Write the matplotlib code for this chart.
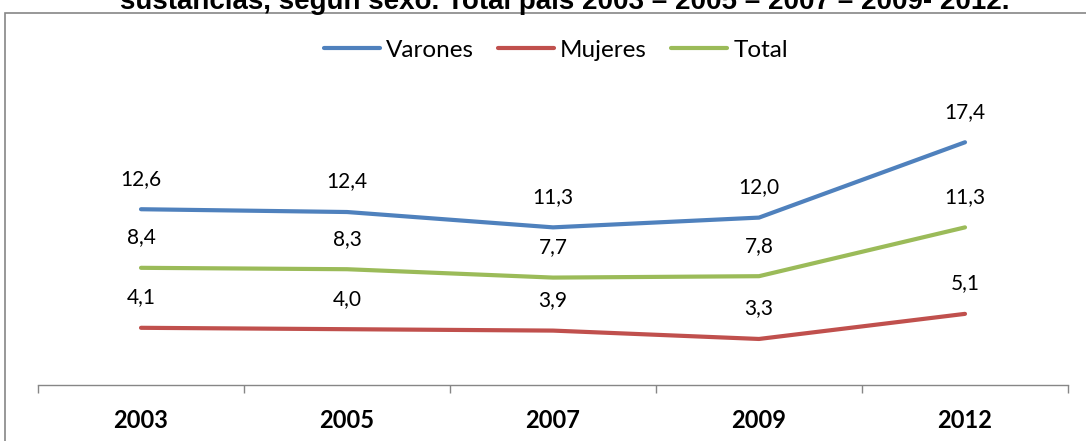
# consumo de sustancias, segun sexo - line chart in the Excel style

# require
import matplotlib
matplotlib.use( 'Agg' )
import matplotlib.pyplot as plt
from matplotlib.patches import Rectangle

# data
YEARS   = [ '2003', '2005', '2007', '2009', '2012' ]
VARONES = [ 12.6, 12.4, 11.3, 12.0, 17.4 ]
MUJERES = [ 4.1, 4.0, 3.9, 3.3, 5.1 ]
TOTAL   = [ 8.4, 8.3, 7.7, 7.8, 11.3 ]
TITLE   = 'sustancias, según sexo. Total país 2003 – 2005 – 2007 – 2009- 2012.'

# configure
W, H   = 1086, 441
BLUE   = '#4F81BD'
RED    = '#C0504D'
GREEN  = '#9BBB59'
GRAY   = '#868686'
FONT   = [ 'Lato', 'DejaVu Sans' ]

# initialize
figure = plt.figure( figsize=( W / 100, H / 100 ), dpi=100 )

# outer chart frame, cut by the picture edge on the right and bottom
figure.patches.append( Rectangle( ( 5 / W, -0.1 ), 1.2, 1.1 - 13 / H, transform=figure.transFigure,
	fill=False, edgecolor=GRAY, linewidth=1.2 ) )

# title, mostly clipped by the top edge
figure.text( 565 / W, 1 - 9 / H, TITLE, ha='center', va='baseline', fontsize=20,
	fontweight='bold', family='Liberation Sans' )

# plot area
axis = figure.add_axes( [ 38 / W, ( H - 385 ) / H, 1030 / W, 279 / H ] )
x    = list( range( len( YEARS ) ) )
for values, color, name in [ ( VARONES, BLUE, 'Varones' ), ( MUJERES, RED, 'Mujeres' ), ( TOTAL, GREEN, 'Total' ) ] :
	axis.plot( x, values, color=color, linewidth=3, solid_capstyle='round', label=name )
	for i, v in zip( x, values ) :
		label = ( '%.1f' % v ).replace( '.', ',' )
		axis.annotate( label, ( i, v ), xytext=( 0, 22 ), textcoords='offset points', ha='center',
			va='center', fontsize=15, family=FONT )

# axes
axis.set_xlim( -0.5, len( YEARS ) - 0.5 )
axis.set_ylim( 0, 20 )
axis.set_yticks( [] )
axis.set_xticks( x )
axis.set_xticklabels( YEARS, fontsize=17, fontweight='bold', family=FONT )
axis.set_xticks( [ i - 0.5 for i in range( len( YEARS ) + 1 ) ], minor=True )
axis.tick_params( axis='x', which='major', length=0, pad=17 )
axis.tick_params( axis='x', which='minor', length=6, color=GRAY, width=1 )
for side in [ 'top', 'right', 'left' ] : axis.spines[ side ].set_visible( False )
axis.spines[ 'bottom' ].set_color( GRAY )
axis.spines[ 'bottom' ].set_linewidth( 1 )
axis.set_facecolor( 'none' )

# legend
legend = figure.legend( loc='center', bbox_to_anchor=( 556 / W, 1 - 50 / H ), ncol=3, frameon=False,
	prop={ 'family' : FONT, 'size' : 17.5 }, handlelength=2.3, handletextpad=0.25, columnspacing=1.0 )

# save
plt.savefig( 'out.png', dpi=100 )
